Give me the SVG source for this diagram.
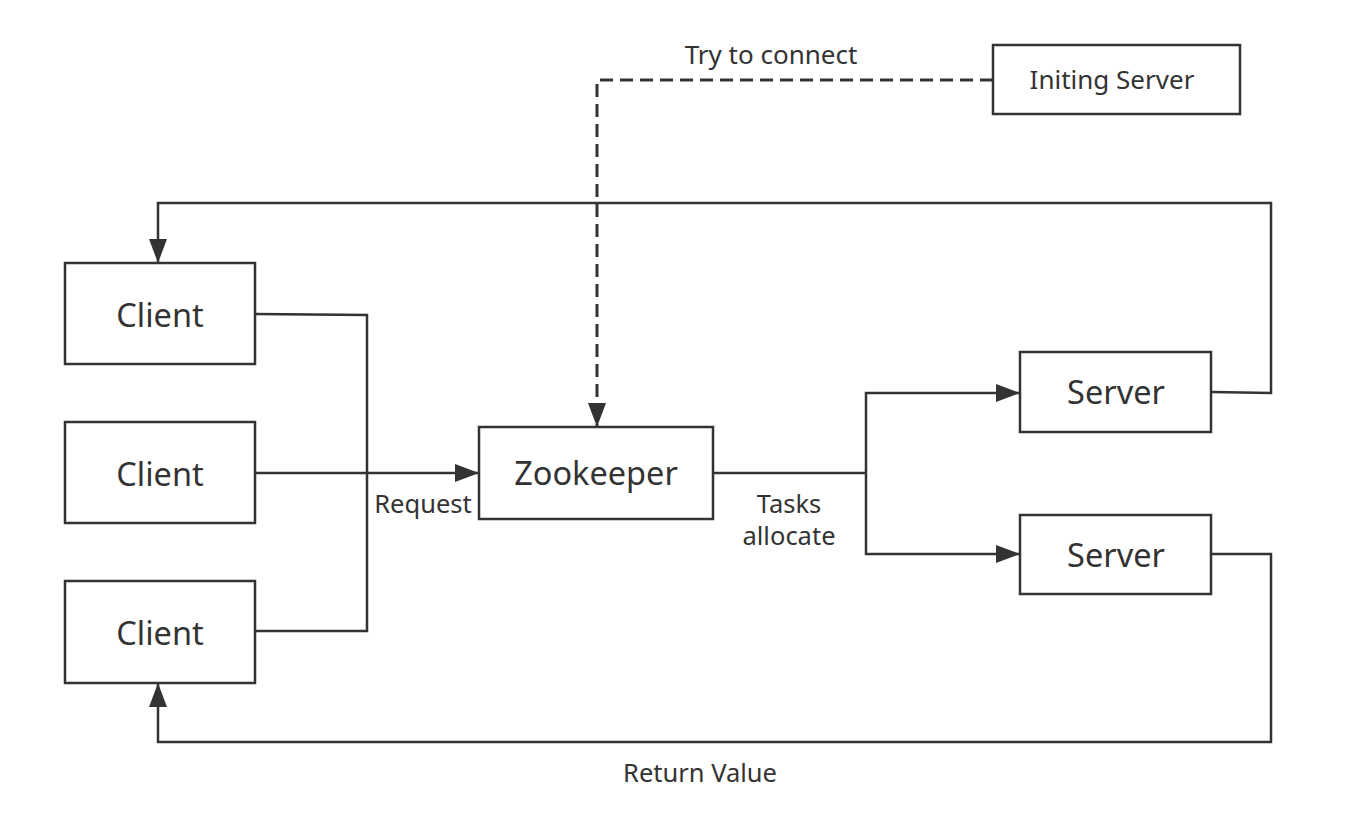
<svg xmlns="http://www.w3.org/2000/svg" width="1355" height="823" viewBox="0 0 1355 823">
<style>
.box{fill:#fff;stroke:#333;stroke-width:2.5}
.t{font-family:"Noto Sans","Open Sans",sans-serif;fill:#333;text-anchor:middle}
.big{font-size:32.5px}
.mid{font-size:26px}
.sm{font-size:25.5px}
.ln{fill:none;stroke:#333;stroke-width:2.5}
.dash{stroke-width:3;stroke-dasharray:13 7}
</style>
<defs>
<marker id="ah" viewBox="0 0 24 18" refX="24" refY="9" markerWidth="24" markerHeight="18" markerUnits="userSpaceOnUse" orient="auto">
<path d="M0,0 L24,9 L0,18 Z" fill="#333"/>
</marker>
</defs>
<rect width="1355" height="823" fill="#fff"/>
<g id="connectors">
<path class="ln" d="M255,314 L367,315 L367,631 L255,631"/>
<path class="ln" d="M255,473 L479,473" stroke-width="3" marker-end="url(#ah)"/>
<path class="ln" d="M713,473 L866,473"/>
<path class="ln" d="M866,473 L866,393 L1020,393" marker-end="url(#ah)"/>
<path class="ln" d="M866,473 L866,554 L1020,554" marker-end="url(#ah)"/>
<path class="ln" d="M1211,392 L1271,393 L1271,203 L158,203 L158,263" marker-end="url(#ah)"/>
<path class="ln" d="M1211,554 L1271,554 L1271,742 L158,742 L158,683" marker-end="url(#ah)"/>
<path class="ln dash" d="M993,80 L597,80 L597,427" marker-end="url(#ah)"/>
<text class="t sm" x="423" y="513">Request</text>
<text class="t sm" x="789" y="513">Tasks</text>
<text class="t sm" x="789" y="545">allocate</text>
<text class="t sm" x="700" y="782">Return Value</text>
<text class="t mid" x="771" y="64">Try to connect</text>
</g>
<g id="client1"><rect class="box" x="65" y="263" width="190" height="101"/><text class="t big" x="160" y="327">Client</text></g>
<g id="client2"><rect class="box" x="65" y="422" width="190" height="101"/><text class="t big" x="160" y="486">Client</text></g>
<g id="client3"><rect class="box" x="65" y="581" width="190" height="102"/><text class="t big" x="160" y="645">Client</text></g>
<g id="zookeeper"><rect class="box" x="479" y="427" width="234" height="92"/><text class="t big" x="596" y="485">Zookeeper</text></g>
<g id="server1"><rect class="box" x="1020" y="352" width="191" height="80"/><text class="t big" x="1116" y="404">Server</text></g>
<g id="server2"><rect class="box" x="1020" y="515" width="191" height="79"/><text class="t big" x="1116" y="567">Server</text></g>
<g id="initing"><rect class="box" x="993" y="45" width="247" height="69"/><text class="t mid" x="1112" y="89">Initing Server</text></g>
</svg>
